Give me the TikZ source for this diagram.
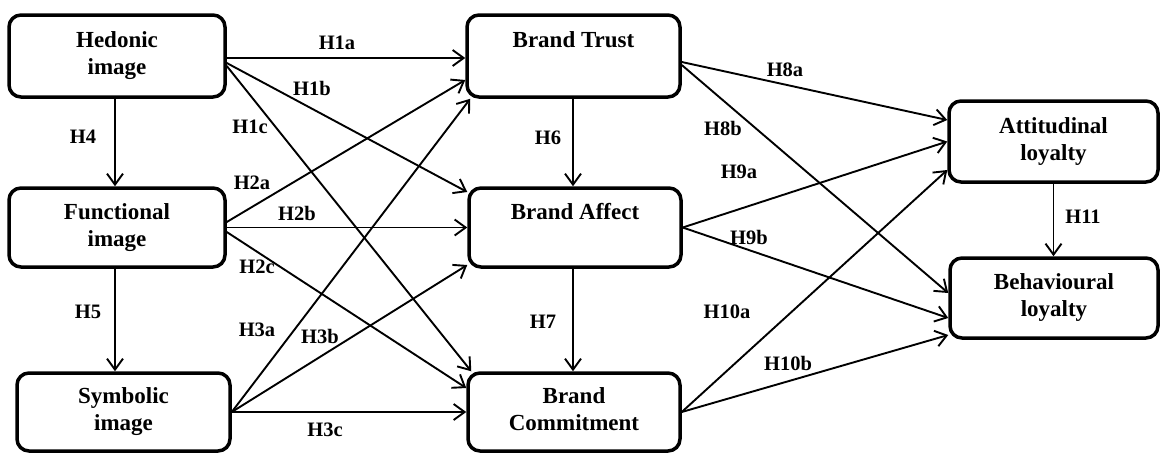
\documentclass[tikz,border=0pt]{standalone}
\usepackage{fontspec}
\setmainfont{Liberation Serif}
\usetikzlibrary{arrows.meta}
\begin{document}
\begin{tikzpicture}[x=1pt,y=-1pt,
  box/.style={draw, line width=3.5pt, rounded corners=12pt, align=center,
    inner sep=0pt, outer sep=1.75pt, font=\bfseries\fontsize{23}{27}\selectfont},
  lab/.style={inner sep=0pt, font=\bfseries\fontsize{20.5}{24}\selectfont},
  arr/.style={line width=1.9pt, -{Straight Barb[length=11pt,width=16pt]}}]
\useasboundingbox (0,0) rectangle (1161,453);
% boxes
\node[box,minimum width=216pt,minimum height=82pt] (hed) at (117,56) {\strut Hedonic\\\strut image};
\node[box,minimum width=216pt,minimum height=79pt] (fun) at (117,227.5) {\strut Functional\\\strut image};
\node[box,minimum width=213pt,minimum height=78pt] (sym) at (123.5,412) {\strut Symbolic\\\strut image};
\node[box,minimum width=213pt,minimum height=82pt] (bt) at (573.5,56) {\strut Brand Trust\\\strut};
\node[box,minimum width=212pt,minimum height=79pt] (ba) at (575,227.5) {\strut Brand Affect\\\strut};
\node[box,minimum width=212pt,minimum height=78pt] (bc) at (574,412) {\strut Brand\\\strut Commitment};
\node[box,minimum width=209pt,minimum height=81pt] (att) at (1053.5,141.5) {\strut Attitudinal\\\strut loyalty};
\node[box,minimum width=208pt,minimum height=80pt] (beh) at (1054,298) {\strut Behavioural\\\strut loyalty};
% connectors
\draw[arr] ([yshift=-2pt]hed.east) -- ([yshift=-2pt]bt.west);
\draw[arr] ([yshift=-7pt]hed.east) -- ([yshift=35.5pt]ba.west);
\draw[arr] ([yshift=-10pt]hed.east) -- ([xshift=5pt]bc.north west);
\draw[arr] ([yshift=5.5pt]fun.east) -- ([yshift=-24pt]bt.west);
\draw[arr] (fun.east) -- (ba.west);
\draw[arr] ([yshift=-4.5pt]fun.east) -- ([yshift=24pt]bc.west);
\draw[arr] (sym.east) -- ([xshift=5pt]bt.south west);
\draw[arr] (sym.east) -- ([yshift=-37.5pt]ba.west);
\draw[arr] (sym.east) -- (bc.west);
\draw[arr] ([yshift=-6pt]bt.east) -- ([yshift=21.5pt]att.west);
\draw[arr] ([yshift=-9pt]bt.east) -- ([yshift=5pt]beh.west);
\draw[arr] (ba.east) -- (att.west);
\draw[arr] (ba.east) -- ([yshift=-20pt]beh.west);
\draw[arr] (bc.east) -- ([yshift=-28.5pt]att.west);
\draw[arr] (bc.east) -- ([yshift=-37pt]beh.west);
\draw[arr] ([xshift=-2pt]hed.south) -- ([xshift=-2pt]fun.north);
\draw[arr] ([xshift=-2pt]fun.south) -- ([xshift=-2pt]fun.south |- sym.north);
\draw[arr] ([xshift=-0.5pt]bt.south) -- ([xshift=-0.5pt]bt.south |- ba.north);
\draw[arr] ([xshift=-2pt]ba.south) -- ([xshift=-2pt]ba.south |- bc.north);
\draw[arr] (att.south) -- (att.south |- beh.north);
% labels
\node[lab] (l1a) at (337,43) {H1a};
\node[lab] (l1b) at (312,88) {H1b};
\node[lab] (l1c) at (250,127) {H1c};
\node[lab] (l4) at (83,137) {H4};
\node[lab] (l2a) at (252,183) {H2a};
\node[lab] (l2b) at (297,213) {H2b};
\node[lab] (l2c) at (257,267) {H2c};
\node[lab] (l5) at (88,312) {H5};
\node[lab] (l3a) at (257,330) {H3a};
\node[lab] (l3b) at (320,336) {H3b};
\node[lab] (l3c) at (325,430) {H3c};
\node[lab] (l6) at (548,138) {H6};
\node[lab] (l7) at (543,322) {H7};
\node[lab] (l8a) at (785,70) {H8a};
\node[lab] (l8b) at (723,128) {H8b};
\node[lab] (l9a) at (739,172) {H9a};
\node[lab] (l9b) at (749,237) {H9b};
\node[lab] (l10a) at (727,312) {H10a};
\node[lab] (l10b) at (788,363) {H10b};
\node[lab] (l11) at (1083,217) {H11};
\end{tikzpicture}
\end{document}
